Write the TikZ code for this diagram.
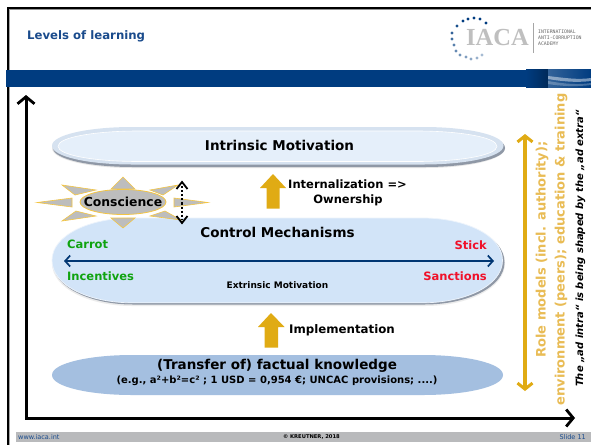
\documentclass[tikz,border=0pt]{standalone}
\usepackage{fontspec}
\setmainfont{DejaVu Sans}
\usetikzlibrary{arrows.meta}
\definecolor{navy}{HTML}{003C80}
\definecolor{titleblue}{HTML}{1A4B8C}
\definecolor{gold}{HTML}{E0AB14}
\definecolor{goldtext}{HTML}{E9BC55}
\definecolor{rayfill}{HTML}{BDBDBD}
\definecolor{rayline}{HTML}{F3C544}
\definecolor{pillblue}{HTML}{D2E4F8}
\definecolor{pillpale}{HTML}{E5EFFA}
\definecolor{pillrim}{HTML}{D6E2F0}
\definecolor{pillshadow}{HTML}{8F98A6}
\definecolor{knowblue}{HTML}{A4BFE0}
\definecolor{footgrey}{HTML}{B9BABC}
\definecolor{green1}{HTML}{0FA30F}
\definecolor{red1}{HTML}{F0102A}
\newcommand{\fsz}[1]{\fontsize{#1}{#1}\selectfont}
\newcommand{\pill}[5][]{% x0,y0,x1,y1
  \path[#1] (#2,{(#3+#5)/2}) .. controls (#2,{#3+(#5-#3)*0.2}) and ({#2+38},#3) .. ({#2+80},#3)
   -- ({#4-80},#3) .. controls ({#4-38},#3) and (#4,{#3+(#5-#3)*0.2}) .. (#4,{(#3+#5)/2})
   .. controls (#4,{#5-(#5-#3)*0.2}) and ({#4-38},#5) .. ({#4-80},#5)
   -- ({#2+80},#5) .. controls ({#2+38},#5) and (#2,{#5-(#5-#3)*0.2}) .. (#2,{(#3+#5)/2}) -- cycle;}
\tikzset{
  lbl/.style={font=\bfseries\fsz{#1},text=black,inner sep=0pt},
  axisarrow/.style={line width=3pt,draw=black,-{Straight Barb[length=7pt,width=17pt,line width=2.8pt]}},
  goldarrow/.style={fill=gold,draw=none},
  ray/.style={fill=rayfill,draw=rayline,line width=0.6pt,line join=miter},
  logodot/.style={circle,inner sep=0pt,minimum size=3.2pt},
}
\begin{document}
\begin{tikzpicture}[x=1pt,y=-1pt]
\useasboundingbox (0,0) rectangle (591,445);
\fill[white] (0,0) rectangle (591,445);
% frame
\fill[gray!85] (7,9) rectangle (591,10);
\fill[black] (7,7) rectangle (591,9);
\fill[black] (6.5,7) rectangle (8.5,445);
\fill[gray!70] (8.5,9) rectangle (9.3,445);
% band
\fill[navy] (6,70) rectangle (591,87);
\shade[left color=navy,right color=navy!70!black] (526,69) rectangle (548,87);
\begin{scope}
\clip (548,69) rectangle (591,87);
\shade[left color=navy!80!white,right color=navy] (548,69) rectangle (591,87);
\fill[white,opacity=.45] (548,76) .. controls (565,78) and (578,80) .. (591,78) -- (591,81) .. controls (575,83) and (560,81) .. (548,79) -- cycle;
\fill[white,opacity=.25] (548,81) .. controls (565,84) and (578,85) .. (591,83) -- (591,85) .. controls (575,87) and (560,86) .. (548,84) -- cycle;
\end{scope}
% footer
\fill[footgrey] (16,432) rectangle (591,442);
\node[font=\fsz{6.5},text=titleblue,anchor=west,inner sep=0pt] (www) at (18,437) {www.iaca.int};
\node[font=\bfseries\fsz{5.2},anchor=center,inner sep=0pt] (copy) at (311.5,437) {© KREUTNER, 2018};
\node[font=\fsz{6.5},text=titleblue,anchor=east,inner sep=0pt] (slide) at (586,437) {Slide 11};
% title
\node[font=\bfseries\fsz{11.7},text=titleblue,anchor=west,inner sep=0pt] (title) at (27,36) {Levels of learning};
% logo
\foreach \dx/\dy/\c in {486/23/100,480/19/100,474/18/100,468/19/100,463/21/100,457/26/90,452/33/80,452/39/75,454/45/65,456/51/60,460/55/55,466/57/50,471/59/45,477/58/40,482/55/35}{
  \node[logodot,fill=navy!\c!white] at (\dx,\dy) {};
}
\node[text=gray!50,inner sep=0pt] (iaca) at (497.5,38) {\fontspec{Liberation Serif}\bfseries\fsz{24.5}IACA};
\draw[gray!70,line width=.7pt] (533,23) -- (533,53);
\node[font=\fsz{4.8},text=black!60,anchor=west,inner sep=0pt,align=left] (acad) at (538,38) {\fontspec{DejaVu Sans Mono}INTERNATIONAL\\[1.2pt]\fontspec{DejaVu Sans Mono}ANTI-CORRUPTION\\[1.2pt]\fontspec{DejaVu Sans Mono}ACADEMY};
% axes
\coordinate (origin) at (26,418);
\coordinate (ytip) at (26,95);
\coordinate (xtip) at (575,418);
\fill[black] (24.5,416.5) rectangle (27.5,419.5);
\draw[axisarrow] (origin) -- (ytip);
\draw[axisarrow] (origin) -- (xtip);
% intrinsic pill
\pill[fill=gray!20] {52}{128}{505}{168}
\pill[fill=pillshadow] {53}{129}{505}{167}
\pill[fill=pillrim] {52}{127}{503.5}{164.5}
\pill[fill=pillpale,draw=white,line width=.6pt] {58}{131}{497}{161.5}
\node[lbl=13.5] (intrinsic) at (279.5,145) {Intrinsic Motivation};
% control pill
\pill[fill=gray!15] {52}{220}{505}{306}
\pill[fill=pillshadow] {53}{220}{504.5}{304.5}
\pill[fill=pillblue,draw=white!60!pillblue,line width=.7pt] {52}{218}{502.5}{302.8}
\node[lbl=13.5] (control) at (277.5,232) {Control Mechanisms};
\node[lbl=11.5,text=green1,anchor=west] (carrot) at (67,244.5) {Carrot};
\node[lbl=11.5,text=green1,anchor=west] (incent) at (67,276.5) {Incentives};
\node[lbl=11.5,text=red1,anchor=east] (stick) at (487,245) {Stick};
\node[lbl=11.5,text=red1,anchor=east] (sanct) at (487,276.5) {Sanctions};
\node[lbl=9] (extr) at (277.5,285.5) {Extrinsic Motivation};
\coordinate (al) at (64,261);
\coordinate (ar) at (494,261);
\draw[line width=1.8pt,navy!90!black,{Straight Barb[length=5pt,width=11pt,line width=1.7pt]}-{Straight Barb[length=5pt,width=11pt,line width=1.7pt]}] (al) -- (ar);
% knowledge pill
\pill[fill=knowblue] {52}{355}{503}{395}
\node[lbl=13.5] (know) at (277,366) {(Transfer of) factual knowledge};
\node[lbl=10] (kex) at (277,381) {(e.g., a²+b²=c² ; 1 USD = 0,954 €; UNCAC provisions; ....)};
% gold block arrows
\fill[goldarrow] (273,174) -- (286,188) -- (279.5,188) -- (279.5,208.5) -- (266.5,208.5) -- (266.5,188) -- (260,188) -- cycle;
\fill[goldarrow] (271,313) -- (284.5,327) -- (278,327) -- (278,347.5) -- (264.5,347.5) -- (264.5,327) -- (258,327) -- cycle;
\node[lbl=11.5] (intern) at (347.5,184.5) {Internalization =>};
\node[lbl=11.5] (owner) at (348,200.5) {Ownership};
\node[lbl=11.8,anchor=west] (impl) at (289,330) {Implementation};
% conscience
\fill[ray] (123,177) -- (135,189) -- (111,189) -- cycle;
\fill[ray] (123,228) -- (135,218) -- (111,218) -- cycle;
\fill[ray] (37,202.5) -- (72,198) -- (72,207) -- cycle;
\fill[ray] (208,202.5) -- (174,198) -- (174,207) -- cycle;
\fill[ray] (62,185) -- (96,190) -- (75,195) -- cycle;
\fill[ray] (178,185) -- (150,190) -- (163,195) -- cycle;
\fill[ray] (62,221) -- (96,216) -- (76,211) -- cycle;
\fill[ray] (181,220) -- (150,216) -- (165,211) -- cycle;
\path[fill=rayfill,draw=rayline,line width=.8pt] (123,202) ellipse [x radius=43,y radius=12.5];
\node[lbl=12.4] (consc) at (123,202) {Conscience};
\draw[line width=2.1pt,dotted,black] (182,186) -- (182,219);
\draw[line width=1.8pt,black] (176.5,189) -- (182,182) -- (187.5,189);
\draw[line width=1.8pt,black] (176.5,216) -- (182,223) -- (187.5,216);
% right
\coordinate (gt) at (525,134);
\coordinate (gb) at (525,391);
\draw[line width=3.2pt,gold,{Straight Barb[length=6pt,width=15pt,line width=3pt]}-{Straight Barb[length=6pt,width=15pt,line width=3pt]}] (gt) -- (gb);
\node[rotate=90,font=\bfseries\fsz{13},text=goldtext,inner sep=0pt] (role) at (542,249.5) {Role models (incl. authority);};
\node[rotate=90,font=\bfseries\fsz{13},text=goldtext,inner sep=0pt] (envr) at (561,249.5) {environment (peers); education \& training};
\node[rotate=90,font=\bfseries\itshape\fsz{10},inner sep=0pt] (adin) at (580.5,248.5) {The „ad intra“ is being shaped by the „ad extra“};
\end{tikzpicture}
\end{document}
